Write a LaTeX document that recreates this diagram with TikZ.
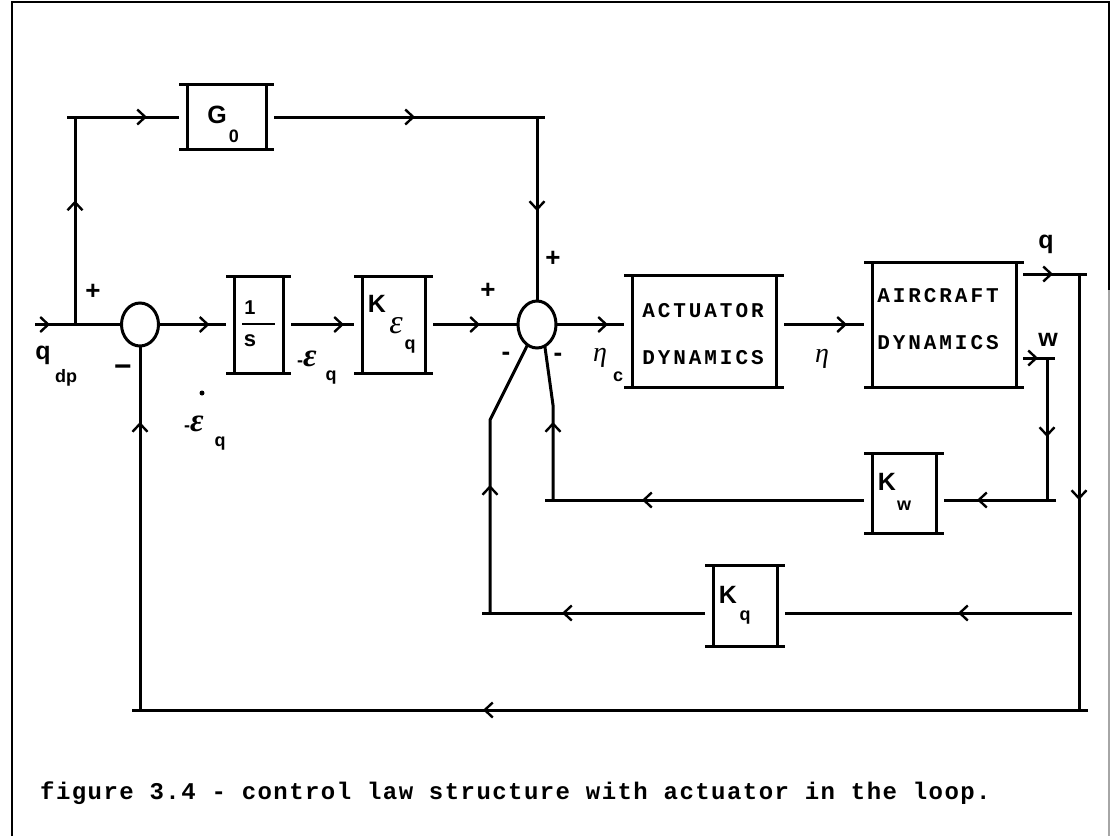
\documentclass[tikz,border=0pt]{standalone}
\usepackage{fontspec}
\setmainfont{Liberation Sans}
\newfontfamily\boxfnt[LetterSpace=14]{Liberation Mono}
\newfontfamily\capfnt[LetterSpace=6]{Liberation Mono}
\newfontfamily\grkfnt{Liberation Serif}
\usetikzlibrary{arrows.meta,decorations.markings,shapes.geometric}
\newcommand\fs[1]{\fontsize{#1}{#1}\selectfont}
\newcommand\barbox[1]{%
  \draw[ln] ([xshift=-8pt]#1.north west) -- ([xshift=8pt]#1.north east);
  \draw[ln] ([xshift=-8pt]#1.south west) -- ([xshift=8pt]#1.south east);
  \draw[ln] (#1.north west) -- (#1.south west);
  \draw[ln] (#1.north east) -- (#1.south east);}
\tikzset{
  ln/.style={line width=3pt},
  mk/.style={postaction={decorate,decoration={markings,mark=at position #1 with {\arrow[line width=2.4pt]{Straight Barb[length=8pt,width=15pt]}}}}},
  blk/.style={inner sep=0pt,outer sep=0pt},
  sumj/.style={ellipse,draw,line width=3pt,inner sep=0pt,outer sep=0pt},
  lab/.style={inner sep=0pt,font=\fs{25}\bfseries},
  sub/.style={inner sep=0pt,font=\fs{18}\bfseries},
  grk/.style={inner sep=0pt,font=\fs{28}\grkfnt\itshape},
  sgn/.style={inner sep=0pt,font=\fs{26}\bfseries},
  btxt/.style={inner sep=0pt,font=\fs{21}\boxfnt\bfseries},
}
\begin{document}
\begin{tikzpicture}[x=1pt,y=-1pt]
\useasboundingbox (0,0) rectangle (1111,836);
% frame
\draw[line width=2pt] (12,836) -- (12,2) -- (1109,2) -- (1109,290);
\draw[line width=1.5pt,black!35] (1109,290) -- (1109,836);

% blocks
\node[blk,minimum width=79pt,minimum height=65pt] (G0) at (226.5,117) {};
\node[blk,minimum width=49pt,minimum height=97pt] (I) at (258.5,324.5) {};
\node[blk,minimum width=63pt,minimum height=97pt] (Ke) at (393.5,324.5) {};
\node[blk,minimum width=144pt,minimum height=112pt] (Act) at (704,331) {};
\node[blk,minimum width=144pt,minimum height=125pt] (Air) at (944,324.5) {};
\node[blk,minimum width=64pt,minimum height=80pt] (Kw) at (904,493) {};
\node[blk,minimum width=64pt,minimum height=81pt] (Kq) at (745,605.5) {};
\barbox{G0}\barbox{I}\barbox{Ke}\barbox{Act}\barbox{Air}\barbox{Kw}\barbox{Kq}

% summing junctions
\node[sumj,minimum width=37pt,minimum height=43pt] (S1) at (140,324.5) {};
\node[sumj,minimum width=38pt,minimum height=47pt] (S2) at (537,324.5) {};

% coordinates
\coordinate (in) at (35,324.5);
\coordinate (bp) at (75,324.5);
\coordinate (bpt) at (75,117);
\coordinate (bpl) at (67,117);
\coordinate (gr) at (537,117);
\coordinate (grx) at (545,117);
\coordinate (qo) at (1023,274);
\coordinate (qr) at (1087,274);
\coordinate (qt) at (1079,274);
\coordinate (qb) at (1079,710);
\coordinate (bbr) at (1088,710);
\coordinate (bbl) at (132,710);
\coordinate (s1b) at (140,710);
\coordinate (kqr) at (1072,613);
\coordinate (kql) at (482,613);
\coordinate (lvb) at (490,613);
\coordinate (lvt) at (490,420);
\coordinate (wo) at (1023,358);
\coordinate (wr) at (1055,358);
\coordinate (wt) at (1047,358);
\coordinate (wb) at (1047,500);
\coordinate (kwr) at (1056,500);
\coordinate (kwl) at (545,500);
\coordinate (rvb) at (553,500);
\coordinate (rvt) at (553,405);

% forward paths
\draw[ln,mk=15pt] (in) -- (S1.west);
\draw[ln,mk=124pt] (bp) -- (bpt);
\draw[ln,mk=80pt] (bpl) -- ([xshift=-8pt]G0.west);
\draw[ln,mk=141pt,mk=357pt] ([xshift=8pt]G0.east) -- (gr) -- (S2.north);
\draw[ln] (gr) -- (grx);
\draw[ln,mk=51pt] (S1.east) -- ([xshift=-8pt]I.west);
\draw[ln,mk=53pt] ([xshift=8pt]I.east) -- ([xshift=-8pt]Ke.west);
\draw[ln,mk=47pt] ([xshift=8pt]Ke.east) -- (S2.west);
\draw[ln,mk=52pt] (S2.east) -- ([xshift=-8pt,yshift=6.5pt]Act.west);
\draw[ln,mk=63pt] ([xshift=8pt,yshift=6.5pt]Act.east) -- ([xshift=-8pt]Air.west);

% q feedback
\draw[ln,mk=30pt] (qo) -- (qr);
\draw[ln,mk=226pt] (qt) -- (qb);
\draw[ln,mk=605pt] (bbr) -- (bbl);
\draw[ln,mk=288pt] (s1b) -- (S1.south);
\draw[ln,mk=114pt] (kqr) -- ([xshift=8pt,yshift=-7.5pt]Kq.east);
\draw[ln,mk=143pt] ([xshift=-8pt,yshift=-7.5pt]Kq.west) -- (kql);
\draw[ln,mk=128pt] (lvb) -- (lvt) -- (S2.245);

% w feedback
\draw[ln,mk=15pt] (wo) -- (wr);
\draw[ln,mk=79pt] (wt) -- (wb);
\draw[ln,mk=79pt] (kwr) -- ([xshift=8pt,yshift=-7pt]Kw.east);
\draw[ln,mk=222pt] ([xshift=-8pt,yshift=-7pt]Kw.west) -- (kwl);
\draw[ln,mk=78pt] (rvb) -- (rvt) -- (S2.290);

% signs
\node[sgn] (p1) at (93,292) {+};
\node[sgn] (p2) at (488,291) {+};
\node[sgn] (p3) at (553,259) {+};
\node[inner sep=0pt,font=\fs{30}\bfseries] (m1) at (123,371) {−};
\node[sgn] (m2) at (506,356) {-};
\node[sgn] (m3) at (558,357) {-};

% labels
\node[lab] (tq) at (43,355) {q};
\node[sub] (tdp) at (66,378) {dp};
\node[lab] (tG) at (217,115) {G};
\node[sub] (t0) at (234,136) {0};
\node[inner sep=0pt,font=\fs{20}\bfseries] (t1) at (250,308) {1};
\draw[line width=2.4pt] (242,324) -- (275,324);
\node[inner sep=0pt,font=\fs{22}\bfseries] (ts) at (250,341) {s};
\node[inner sep=0pt] (te1) at (307,359) {\fs{18}\bfseries -\fs{33}\grkfnt\itshape ε};
\node[sub] (te1q) at (331,378) {q};
\fill (202,393) circle (2.5pt);
\node[inner sep=0pt] (te2) at (194,424) {\fs{18}\bfseries -\fs{33}\grkfnt\itshape ε};
\node[sub] (te2q) at (220,444) {q};
\node[lab] (tK1) at (377,304) {K};
\node[inner sep=0pt,font=\fs{34}\grkfnt\itshape] (tK1e) at (396,326) {ε};
\node[sub] (tK1q) at (410,347) {q};
\node[btxt] (ta1) at (703,311) {ACTUATOR};
\node[btxt] (ta2) at (703,358) {DYNAMICS};
\node[grk] (teta) at (600,358) {η};
\node[sub] (tc) at (618,377) {c};
\node[grk] (teta2) at (822,359) {η};
\node[btxt] (tb1) at (938,296) {AIRCRAFT};
\node[btxt] (tb2) at (938,343) {DYNAMICS};
\node[lab] (tqo) at (1046,244) {q};
\node[lab] (two) at (1048,340) {w};
\node[lab] (tKw) at (887,482) {K};
\node[sub] (tKww) at (904,506) {w};
\node[lab] (tKq) at (728,595) {K};
\node[sub] (tKqq) at (745,618) {q};

% caption
\node[inner sep=0pt,anchor=west,font=\fs{24}\capfnt\bfseries] (cap) at (40,793) {figure 3.4 - control law structure with actuator in the loop.};
\end{tikzpicture}
\end{document}
